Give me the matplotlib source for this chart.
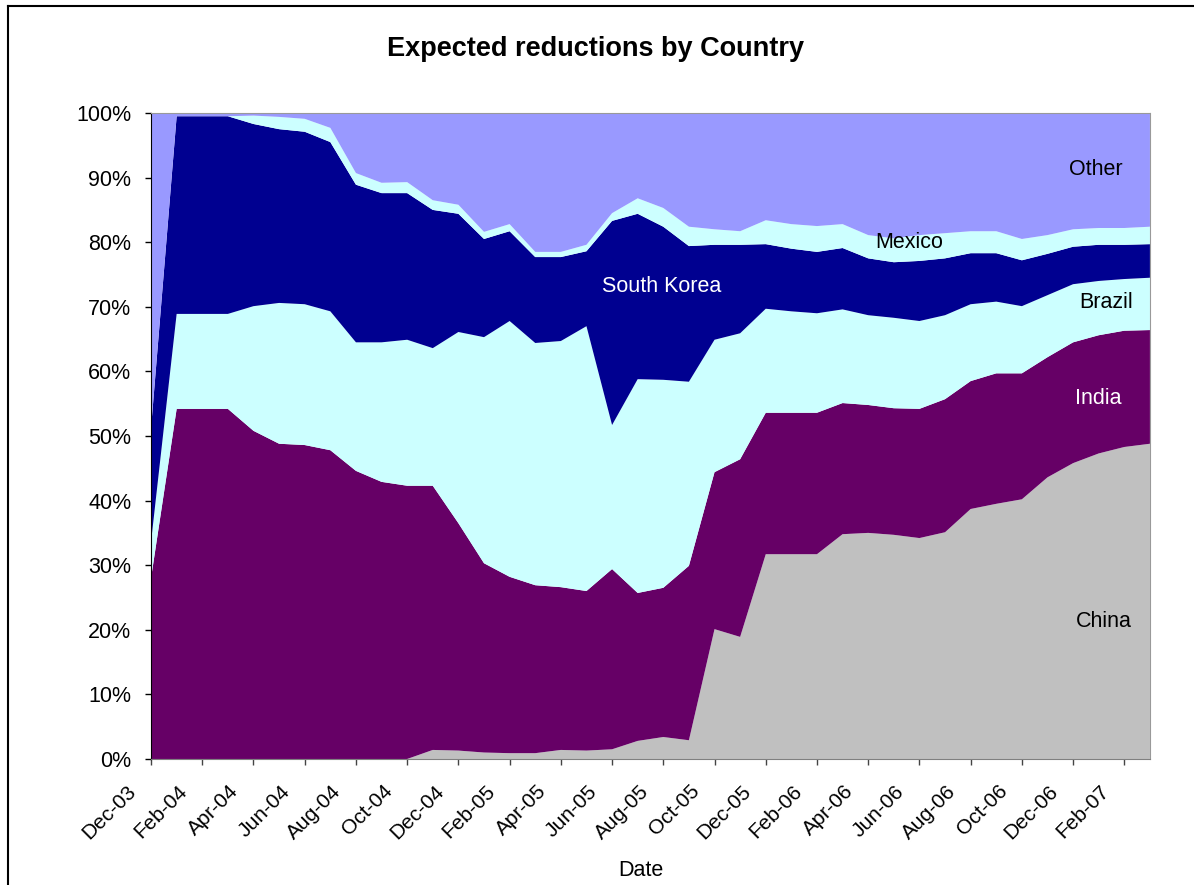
import numpy as np
import matplotlib.pyplot as plt
from matplotlib.lines import Line2D
from matplotlib.transforms import ScaledTranslation

plt.rcParams['font.family'] = ['Liberation Sans', 'DejaVu Sans']

# monthly points Dec-03 .. Mar-07 (share of expected reductions, %)
months = ['Dec-03', 'Jan-04', 'Feb-04', 'Mar-04', 'Apr-04', 'May-04', 'Jun-04', 'Jul-04',
          'Aug-04', 'Sep-04', 'Oct-04', 'Nov-04', 'Dec-04', 'Jan-05', 'Feb-05', 'Mar-05',
          'Apr-05', 'May-05', 'Jun-05', 'Jul-05', 'Aug-05', 'Sep-05', 'Oct-05', 'Nov-05',
          'Dec-05', 'Jan-06', 'Feb-06', 'Mar-06', 'Apr-06', 'May-06', 'Jun-06', 'Jul-06',
          'Aug-06', 'Sep-06', 'Oct-06', 'Nov-06', 'Dec-06', 'Jan-07', 'Feb-07', 'Mar-07']

china = [0, 0, 0, 0, 0, 0, 0, 0, 0, 0, 0, 1.4, 1.3, 1.0, 0.9, 0.9, 1.4, 1.3, 1.5, 2.8,
         3.4, 2.9, 20.1, 18.9, 31.7, 31.7, 31.7, 34.8, 35.0, 34.7, 34.2, 35.1, 38.7, 39.5,
         40.2, 43.6, 45.8, 47.3, 48.3, 48.8]
india = [28.0, 54.2, 54.2, 54.2, 50.8, 48.8, 48.6, 47.8, 44.6, 42.9, 42.3, 40.9, 35.2,
         29.3, 27.3, 26.0, 25.2, 24.7, 27.9, 22.9, 23.1, 27.0, 24.3, 27.5, 21.9, 21.9,
         21.9, 20.3, 19.8, 19.6, 20.0, 20.6, 19.8, 20.2, 19.5, 18.6, 18.7, 18.3, 18.0, 17.6]
brazil = [5.6, 14.7, 14.7, 14.7, 19.3, 21.8, 21.8, 21.5, 19.9, 21.6, 22.6, 21.3, 29.6,
          35.0, 39.6, 37.5, 38.1, 41.0, 22.3, 33.1, 32.2, 28.5, 20.5, 19.5, 16.1, 15.7,
          15.4, 14.5, 13.9, 14.0, 13.6, 13.0, 11.9, 11.1, 10.4, 9.6, 9.0, 8.4, 8.0, 8.1]
south_korea = [17.6, 30.6, 30.6, 30.6, 28.2, 26.9, 26.7, 26.2, 24.4, 23.1, 22.7, 21.4,
               18.3, 15.2, 13.9, 13.3, 13.0, 11.6, 31.6, 25.6, 23.7, 21.0, 14.7, 13.7,
               10.0, 9.7, 9.5, 9.5, 8.8, 8.6, 9.3, 8.8, 7.9, 7.5, 7.1, 6.4, 5.8, 5.6, 5.3, 5.2]
mexico = [0.0, 0.0, 0.0, 0.0, 1.3, 1.9, 2.0, 2.2, 1.8, 1.6, 1.7, 1.5, 1.4, 1.1, 1.1, 0.8,
          0.8, 1.0, 1.2, 2.4, 2.9, 3.0, 2.4, 2.1, 3.7, 3.8, 4.0, 3.7, 3.6, 3.7, 4.0, 3.9,
          3.4, 3.4, 3.3, 2.9, 2.7, 2.6, 2.6, 2.7]
other = [48.8, 0.5, 0.5, 0.5, 0.4, 0.6, 0.9, 2.3, 9.3, 10.8, 10.7, 13.5, 14.2, 18.4, 17.2,
         21.5, 21.5, 20.4, 15.5, 13.2, 14.7, 17.6, 18.0, 18.3, 16.6, 17.2, 17.5, 17.2, 18.9,
         19.4, 18.9, 18.6, 18.3, 18.3, 19.5, 18.9, 18.0, 17.8, 17.8, 17.6]

names = ['China', 'India', 'Brazil', 'South Korea', 'Mexico', 'Other']
colors = ['#C0C0C0', '#660066', '#CCFFFF', '#000090', '#CCFFFF', '#9999FF']

x = np.arange(len(months))
vals = np.array([china, india, brazil, south_korea, mexico, other])
vals = vals / vals.sum(axis=0) * 100

fig = plt.figure(figsize=(11.94, 8.85), dpi=100)
ax = fig.add_axes([0.1265, 0.1424, 0.8366, 0.7299])
ax.stackplot(x, vals, colors=colors, linewidth=0)

ax.set_xlim(0, len(months) - 1)
ax.set_ylim(0, 100)
ax.set_yticks(np.arange(0, 101, 10))
ax.set_yticklabels([f'{v}%' for v in range(0, 101, 10)], fontsize=15.5)
ax.set_xticks(x[::2])
ax.tick_params(axis='y', direction='out', length=4.3, width=1, pad=10)
ax.tick_params(axis='x', direction='out', length=4.5, width=1, color='#444444',
               labelbottom=False)

# date labels, rotated and set a bit left/below each tick like Excel does
off = ax.get_xaxis_transform() + ScaledTranslation(-0.245, -0.225, fig.dpi_scale_trans)
for xi in x[::2]:
    ax.text(xi, 0, months[xi], transform=off, fontsize=15, rotation=45,
            ha='right', va='top', rotation_mode='anchor', clip_on=False)

ax.spines['left'].set_color('black')
ax.spines['bottom'].set_color('#808080')
ax.spines['top'].set_color('#999999')
ax.spines['top'].set_linestyle((0, (2, 1)))
ax.spines['right'].set_color('#999999')

# series labels inside the areas
lbl = dict(fontsize=15.5, ha='center', va='center')
ax.text(19.94, 73.2, 'South Korea', color='white', **lbl)
ax.text(36.9, 91.3, 'Other', color='black', **lbl)
ax.text(29.6, 79.9, 'Mexico', color='black', **lbl)
ax.text(37.3, 70.6, 'Brazil', color='black', **lbl)
ax.text(37.0, 55.8, 'India', color='white', **lbl)
ax.text(37.2, 21.3, 'China', color='black', **lbl)

fig.text(0.499, 0.945, 'Expected reductions by Country', fontsize=19.5,
         fontweight='bold', ha='center', va='center')
fig.text(0.537, 0.016, 'Date', fontsize=15.5, ha='center', va='center')

# chart frame (only left and top edges are visible in the crop)
fig.add_artist(Line2D([0.0071, 0.0071], [0, 0.9927], color='black', lw=1.5))
fig.add_artist(Line2D([0.0071, 1], [0.9927, 0.9927], color='black', lw=1.5))

fig.savefig('out.png', dpi=100)
plt.close(fig)
